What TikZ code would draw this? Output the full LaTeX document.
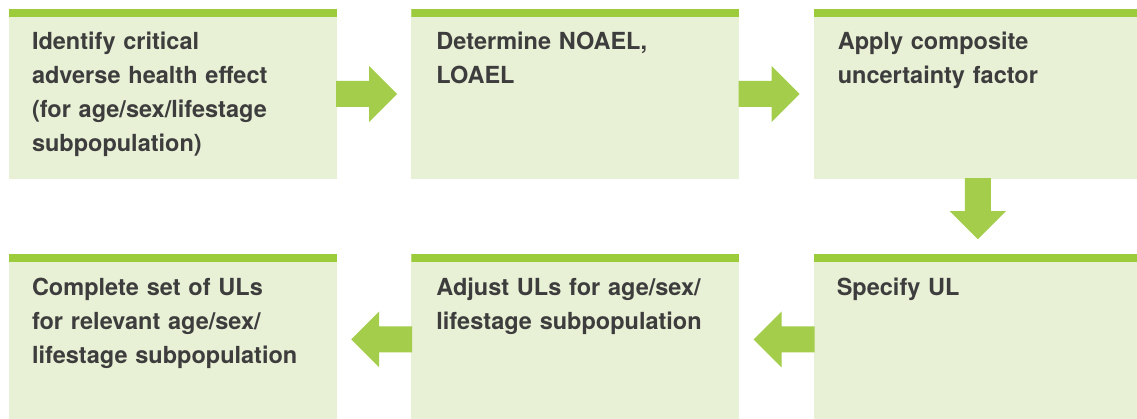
\documentclass[tikz,border=0pt]{standalone}
\usepackage{fontspec}
\setmainfont{TeX Gyre Heros}
\usetikzlibrary{calc,positioning}

\definecolor{boxfill}{HTML}{E8F0D5}
\definecolor{bargreen}{HTML}{9CCB3C}
\definecolor{arrowgreen}{HTML}{A3CD4A}
\definecolor{textgray}{HTML}{3D3D3D}

\tikzset{
  stepbox/.style={rectangle, fill=boxfill, inner sep=0pt, minimum width=328pt, minimum height=170pt,
    path picture={\fill[bargreen] (path picture bounding box.north west) rectangle ([yshift=-8pt]path picture bounding box.north east);}},
  steptext/.style={anchor=base west, inner sep=0pt, text width=300pt, align=left, text=textgray,
    font=\fontsize{23.5pt}{34pt}\selectfont\bfseries},
  blockarrow/.style={fill=arrowgreen}
}

\begin{document}
\begin{tikzpicture}[x=1pt,y=1pt]
\useasboundingbox (0,0) rectangle (1137,-419);
\clip (0,0) rectangle (1137,-419);
% top row
\node[stepbox] (A) at (173,-94) {};
\node[stepbox, right=74pt of A] (B) {};
\node[stepbox, right=74pt of B] (C) {};
% bottom row
\node[stepbox, below=75pt of C] (F) {};
\node[stepbox, left=74pt of F] (E) {};
\node[stepbox, left=74pt of E] (D) {};
% texts
\node[steptext] (tA) at ($(A.north west)+(23,-41)$) {Identify critical\\adverse health effect\\(for age/sex/lifestage\\subpopulation)};
\node[steptext] (tB) at ($(B.north west)+(25,-41)$) {Determine NOAEL,\\LOAEL};
\node[steptext] (tC) at ($(C.north west)+(24,-41)$) {Apply composite\\uncertainty factor};
\node[steptext] (tF) at ($(F.north west)+(23,-41)$) {Specify UL};
\node[steptext] (tE) at ($(E.north west)+(25,-41)$) {Adjust ULs for age/sex/\\lifestage subpopulation};
\node[steptext] (tD) at ($(D.north west)+(23,-41)$) {Complete set of ULs\\for relevant age/sex/\\lifestage subpopulation};
% arrows
\fill[blockarrow] ($(A.east)+(-1,13)$) -- ++(33,0) -- ++(0,15) -- ++(28,-28) -- ++(-28,-28) -- ++(0,15) -- ++(-33,0) -- cycle;
\fill[blockarrow] ($(B.east)+(-1,13)$) -- ++(33,0) -- ++(0,15) -- ++(28,-28) -- ++(-28,-28) -- ++(0,15) -- ++(-33,0) -- cycle;
\fill[blockarrow] ($(C.south)+(-13,1)$) -- ++(0,-33) -- ++(-15,0) -- ++(28,-28) -- ++(28,28) -- ++(-15,0) -- ++(0,33) -- cycle;
\fill[blockarrow] ($(F.west)+(1,13)$) -- ++(-33,0) -- ++(0,15) -- ++(-28,-28) -- ++(28,-28) -- ++(0,15) -- ++(33,0) -- cycle;
\fill[blockarrow] ($(E.west)+(1,13)$) -- ++(-33,0) -- ++(0,15) -- ++(-28,-28) -- ++(28,-28) -- ++(0,15) -- ++(33,0) -- cycle;
\end{tikzpicture}
\end{document}
